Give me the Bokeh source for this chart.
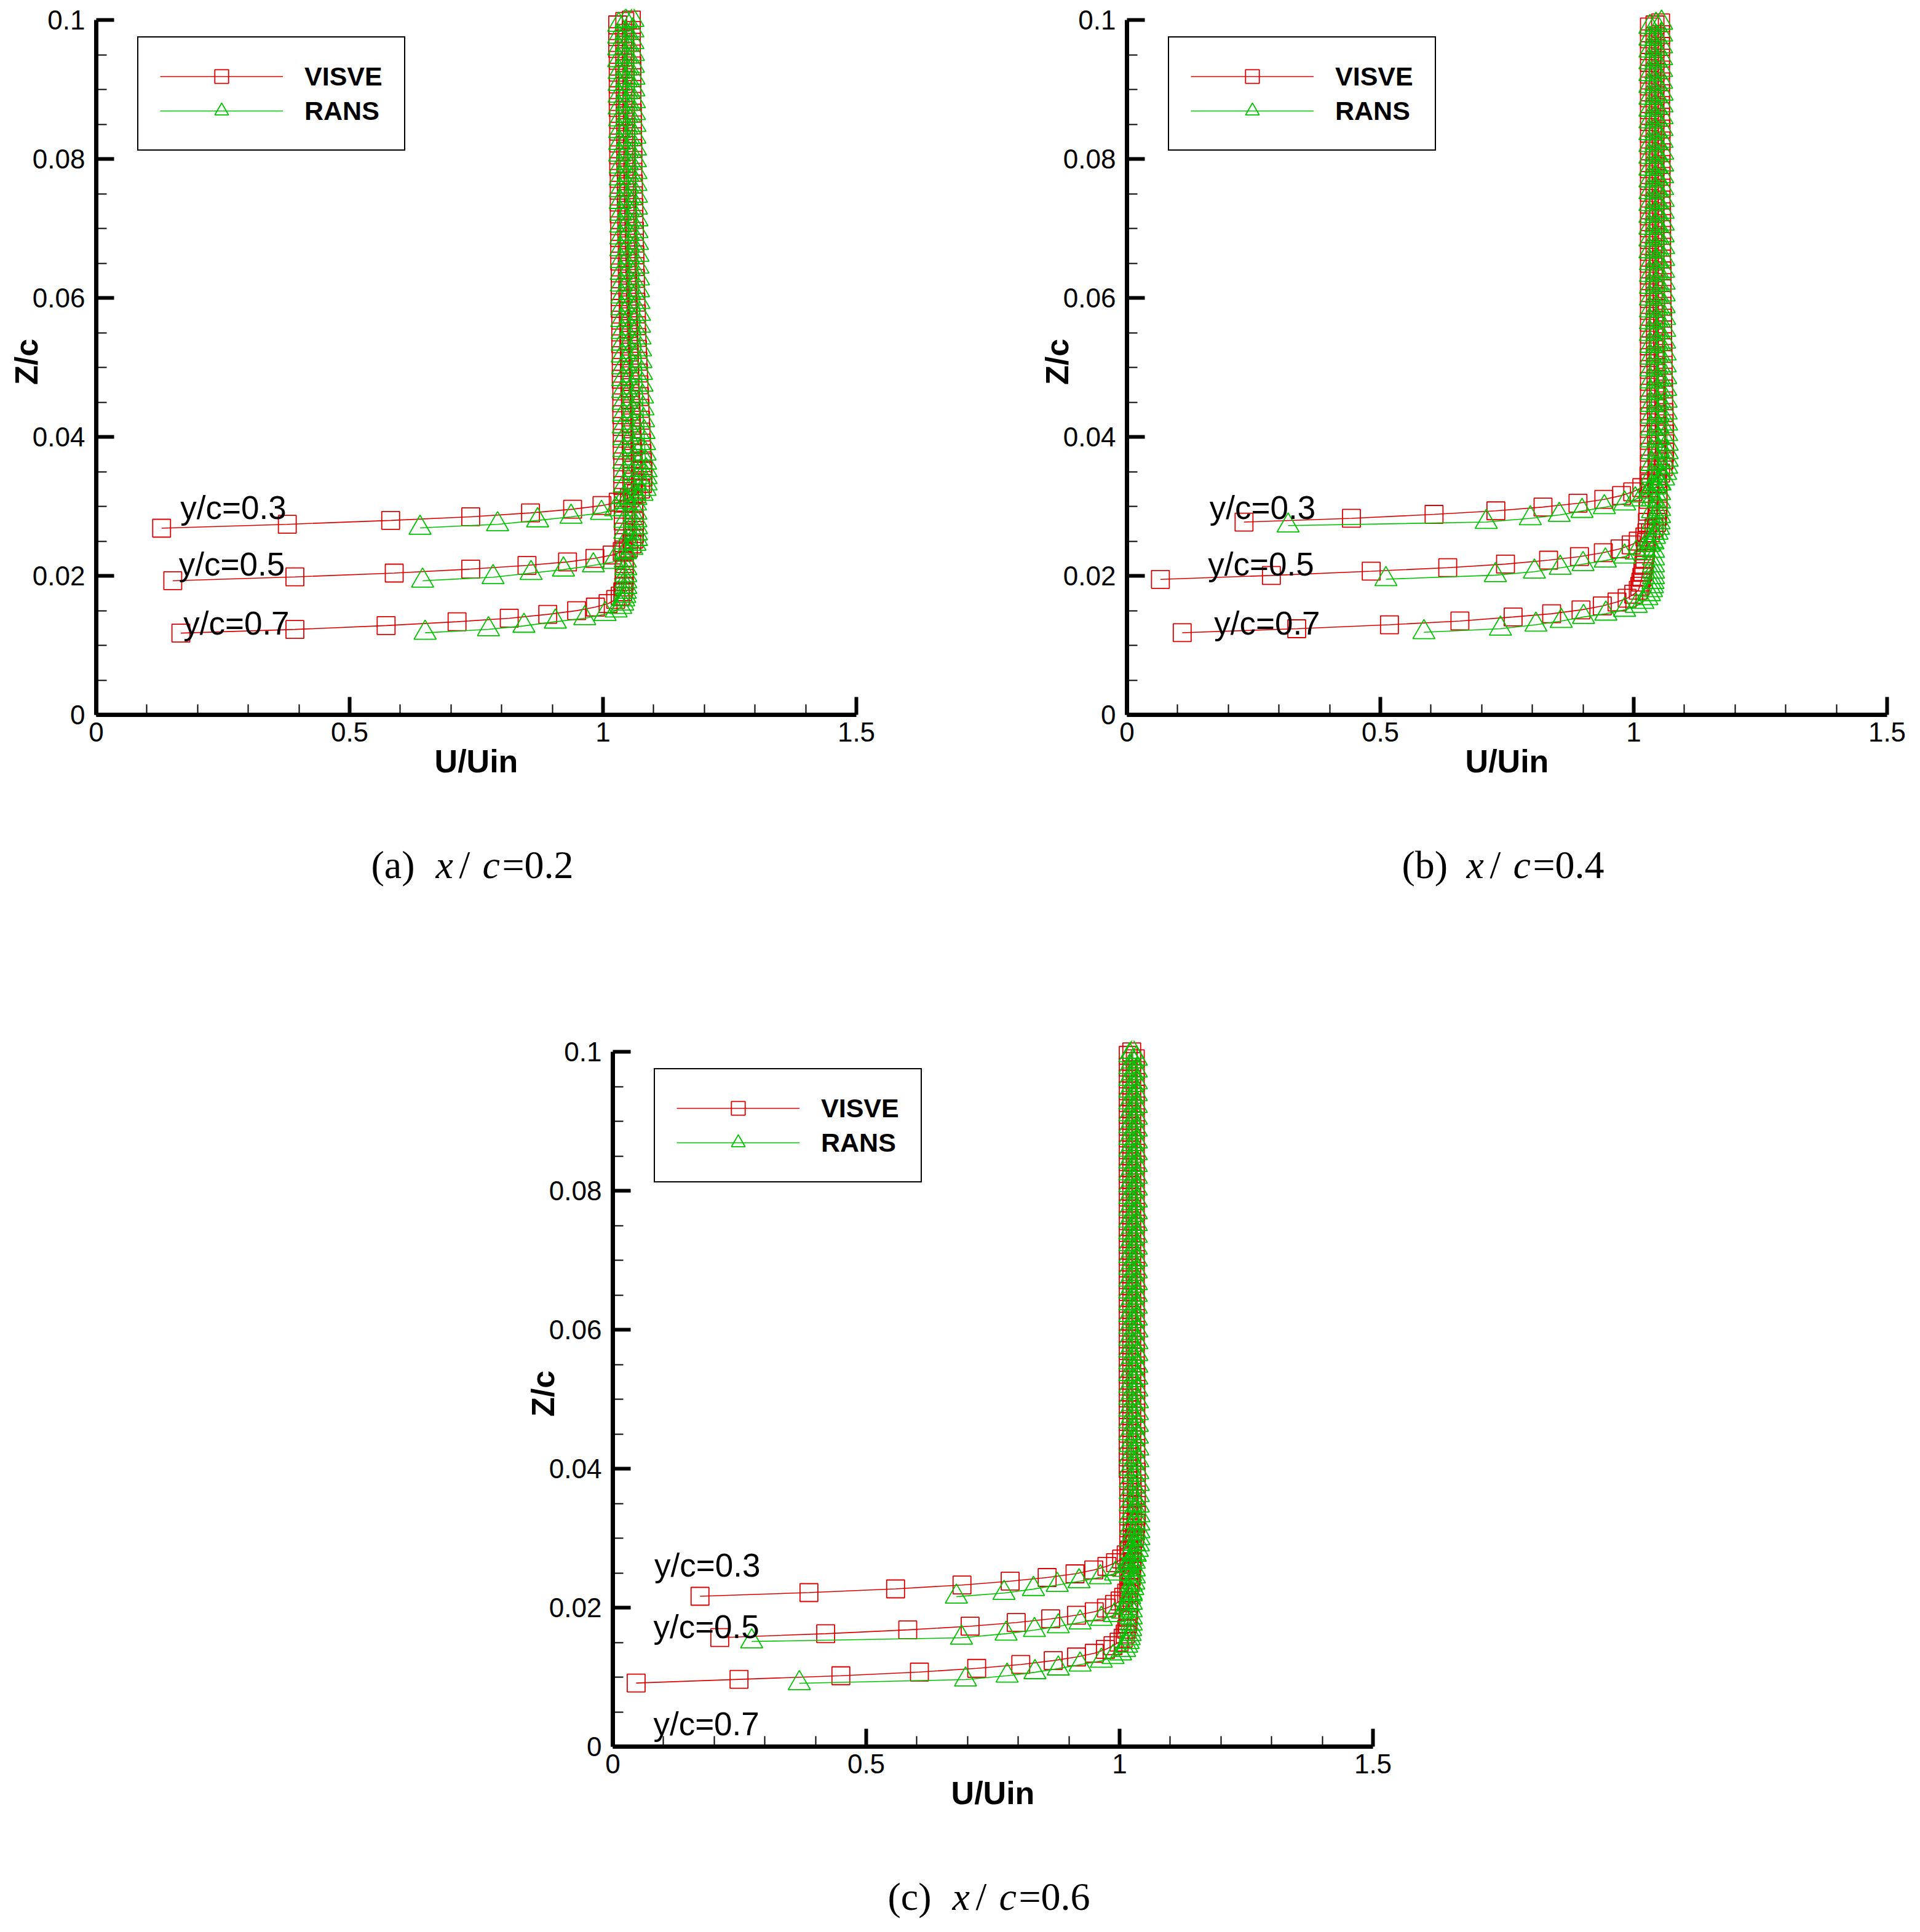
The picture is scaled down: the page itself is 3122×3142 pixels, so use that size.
from bokeh.plotting import figure
from bokeh.layouts import column, row
from bokeh.models import Range1d, FixedTicker, CustomJSTickFormatter, Legend, LegendItem
from bokeh.core.properties import value
from bokeh.embed import file_html
from bokeh.resources import INLINE

RED = "#dd0000"
GREEN = "#00c400"

X_TICKS = [0, 0.5, 1, 1.5]
Y_TICKS = [0, 0.02, 0.04, 0.06, 0.08, 0.1]
X_MINOR = [0.1, 0.2, 0.3, 0.4, 0.6, 0.7, 0.8, 0.9, 1.1, 1.2, 1.3, 1.4]
Y_MINOR = [0.005, 0.01, 0.015, 0.025, 0.03, 0.035, 0.045, 0.05, 0.055,
           0.065, 0.07, 0.075, 0.085, 0.09, 0.095]
PROFILE_LABELS = ["y/c=0.3", "y/c=0.5", "y/c=0.7"]
SERIES_NAMES = ["VISVE", "RANS"]

# ======================= panel (a) x/c=0.2 =======================
A3_VIS_Z_LOW = [0.02686, 0.02742, 0.02798, 0.02850, 0.02906, 0.02959, 0.03012]
A3_VIS_U_LOW = [0.129, 0.377, 0.581, 0.739, 0.857, 0.940, 0.998]
A3_RANS_Z_LOW = [0.02690, 0.02742, 0.02798, 0.02850, 0.02906, 0.02959]
A3_RANS_U_LOW = [0.639, 0.792, 0.871, 0.937, 0.997, 1.025]
A3_Z_UP = [0.0306, 0.0312, 0.0318, 0.0325, 0.0333, 0.0342, 0.0352, 0.0363,
           0.0376, 0.0391, 0.0407, 0.0424, 0.0441, 0.0458, 0.0475, 0.0492, 0.0509, 0.0526,
           0.0543, 0.0560, 0.0577, 0.0594, 0.0611, 0.0628, 0.0645, 0.0662, 0.0679, 0.0696,
           0.0713, 0.0730, 0.0747, 0.0764, 0.0781, 0.0798, 0.0815, 0.0832, 0.0849, 0.0866,
           0.0883, 0.0900, 0.0917, 0.0934, 0.0951, 0.0968, 0.0985, 0.1000]
A3_VIS_U_UP = [1.030, 1.052, 1.066, 1.074, 1.078, 1.079, 1.079, 1.078,
               1.077, 1.076, 1.075, 1.074, 1.073, 1.072, 1.071, 1.070, 1.069, 1.068,
               1.067, 1.066, 1.066, 1.065, 1.064, 1.064, 1.063, 1.063, 1.062, 1.062,
               1.061, 1.061, 1.060, 1.060, 1.059, 1.059, 1.059, 1.058, 1.058, 1.058,
               1.057, 1.057, 1.057, 1.057, 1.056, 1.056, 1.056, 1.056]
A3_RANS_U_UP = [1.045, 1.065, 1.077, 1.083, 1.085, 1.085, 1.085, 1.084,
                1.083, 1.082, 1.081, 1.080, 1.079, 1.078, 1.077, 1.076, 1.075, 1.074,
                1.073, 1.072, 1.072, 1.071, 1.070, 1.070, 1.069, 1.069, 1.068, 1.067,
                1.067, 1.066, 1.066, 1.065, 1.065, 1.064, 1.064, 1.063, 1.063, 1.062,
                1.062, 1.061, 1.061, 1.060, 1.060, 1.059, 1.059, 1.059]

A5_VIS_Z_LOW = [0.01930, 0.01985, 0.02040, 0.02097, 0.02150, 0.02200, 0.02252, 0.02300]
A5_VIS_U_LOW = [0.151, 0.392, 0.588, 0.739, 0.850, 0.930, 0.984, 1.018]
A5_RANS_Z_LOW = [0.01930, 0.01980, 0.02040, 0.02090, 0.02150, 0.02200]
A5_RANS_U_LOW = [0.644, 0.783, 0.858, 0.922, 0.981, 1.020]
A5_Z_UP = [0.0235, 0.0240, 0.0246, 0.0253, 0.0261, 0.0270, 0.0280, 0.0291,
           0.0304, 0.0319, 0.0335, 0.0352, 0.0369, 0.0386, 0.0403, 0.0420, 0.0437, 0.0454,
           0.0471, 0.0488, 0.0505, 0.0522, 0.0539, 0.0556, 0.0573, 0.0590, 0.0607, 0.0624,
           0.0641, 0.0658, 0.0675, 0.0692, 0.0709, 0.0726, 0.0743, 0.0760, 0.0777, 0.0794,
           0.0811, 0.0828, 0.0845, 0.0862, 0.0879, 0.0896, 0.0913, 0.0930, 0.0947, 0.0964,
           0.0981, 0.0998]
A5_VIS_U_UP = [1.038, 1.050, 1.057, 1.061, 1.062, 1.062, 1.062, 1.061,
               1.061, 1.060, 1.059, 1.058, 1.057, 1.057, 1.056, 1.055, 1.055, 1.054,
               1.053, 1.053, 1.052, 1.052, 1.051, 1.051, 1.050, 1.050, 1.049, 1.049,
               1.048, 1.048, 1.048, 1.047, 1.047, 1.047, 1.046, 1.046, 1.046, 1.045,
               1.045, 1.045, 1.045, 1.044, 1.044, 1.044, 1.044, 1.043, 1.043, 1.043,
               1.043, 1.043]
A5_RANS_U_UP = [1.045, 1.057, 1.063, 1.066, 1.066, 1.066, 1.065, 1.065,
                1.064, 1.063, 1.062, 1.062, 1.061, 1.060, 1.059, 1.059, 1.058, 1.057,
                1.057, 1.056, 1.056, 1.055, 1.055, 1.054, 1.054, 1.053, 1.053, 1.052,
                1.052, 1.051, 1.051, 1.050, 1.050, 1.050, 1.049, 1.049, 1.049, 1.048,
                1.048, 1.048, 1.047, 1.047, 1.047, 1.047, 1.046, 1.046, 1.046, 1.046,
                1.045, 1.045]

A7_VIS_Z_LOW = [0.01176, 0.01229, 0.01284, 0.01340, 0.01390, 0.01446, 0.01499, 0.01551, 0.01600, 0.01660]
A7_VIS_U_LOW = [0.167, 0.392, 0.572, 0.712, 0.815, 0.891, 0.948, 0.985, 1.010, 1.025]
A7_RANS_Z_LOW = [0.01180, 0.01230, 0.01280, 0.01340, 0.01390, 0.01450, 0.01500, 0.01551, 0.01600, 0.01660]
A7_RANS_U_LOW = [0.649, 0.774, 0.844, 0.906, 0.964, 1.004, 1.026, 1.035, 1.039, 1.041]
A7_Z_UP = [0.0171, 0.0177, 0.0184, 0.0192, 0.0201, 0.0211, 0.0222, 0.0234,
           0.0248, 0.0263, 0.0279, 0.0296, 0.0313, 0.0330, 0.0347, 0.0364, 0.0381, 0.0398,
           0.0415, 0.0432, 0.0449, 0.0466, 0.0483, 0.0500, 0.0517, 0.0534, 0.0551, 0.0568,
           0.0585, 0.0602, 0.0619, 0.0636, 0.0653, 0.0670, 0.0687, 0.0704, 0.0721, 0.0738,
           0.0755, 0.0772, 0.0789, 0.0806, 0.0823, 0.0840, 0.0857, 0.0874, 0.0891, 0.0908,
           0.0925, 0.0942, 0.0959, 0.0976, 0.0993]
A7_VIS_U_UP = [1.034, 1.039, 1.041, 1.042, 1.042, 1.042, 1.042, 1.041,
               1.041, 1.041, 1.040, 1.040, 1.040, 1.039, 1.039, 1.039, 1.038, 1.038,
               1.038, 1.037, 1.037, 1.037, 1.036, 1.036, 1.036, 1.035, 1.035, 1.035,
               1.034, 1.034, 1.034, 1.034, 1.033, 1.033, 1.033, 1.033, 1.032, 1.032,
               1.032, 1.032, 1.031, 1.031, 1.031, 1.031, 1.031, 1.030, 1.030, 1.030,
               1.030, 1.030, 1.029, 1.029, 1.029]
A7_RANS_U_UP = [1.043, 1.044, 1.045, 1.045, 1.045, 1.045, 1.044, 1.044,
                1.044, 1.043, 1.043, 1.043, 1.042, 1.042, 1.042, 1.041, 1.041, 1.041,
                1.040, 1.040, 1.040, 1.039, 1.039, 1.039, 1.038, 1.038, 1.038, 1.037,
                1.037, 1.037, 1.036, 1.036, 1.036, 1.035, 1.035, 1.035, 1.035, 1.034,
                1.034, 1.034, 1.034, 1.033, 1.033, 1.033, 1.033, 1.032, 1.032, 1.032,
                1.032, 1.031, 1.031, 1.031, 1.031]

# ======================= panel (b) x/c=0.4 =======================
B3_VIS_Z_LOW = [0.02774, 0.02828, 0.02885, 0.02936, 0.02990, 0.03045, 0.03100, 0.03156, 0.03210]
B3_VIS_U_LOW = [0.231, 0.443, 0.606, 0.728, 0.821, 0.890, 0.941, 0.976, 0.998]
B3_RANS_Z_LOW = [0.02723, 0.02774, 0.02828, 0.02876, 0.02933, 0.02987, 0.03040, 0.03100, 0.03156, 0.03210]
B3_RANS_U_LOW = [0.318, 0.709, 0.796, 0.853, 0.898, 0.942, 0.982, 1.003, 1.018, 1.030]
B3_Z_UP = [0.0327, 0.0333, 0.0340, 0.0348, 0.0357, 0.0367, 0.0378, 0.0390,
           0.0404, 0.0419, 0.0435, 0.0452, 0.0469, 0.0486, 0.0503, 0.0520, 0.0537, 0.0554,
           0.0571, 0.0588, 0.0605, 0.0622, 0.0639, 0.0656, 0.0673, 0.0690, 0.0707, 0.0724,
           0.0741, 0.0758, 0.0775, 0.0792, 0.0809, 0.0826, 0.0843, 0.0860, 0.0877, 0.0894,
           0.0911, 0.0928, 0.0945, 0.0962, 0.0979, 0.0996]
B3_VIS_U_UP = [1.016, 1.032, 1.045, 1.053, 1.058, 1.060, 1.061, 1.061,
               1.061, 1.060, 1.060, 1.059, 1.059, 1.058, 1.058, 1.058, 1.057, 1.057,
               1.057, 1.056, 1.056, 1.056, 1.056, 1.055, 1.055, 1.055, 1.055, 1.055,
               1.054, 1.054, 1.054, 1.054, 1.054, 1.054, 1.054, 1.053, 1.053, 1.053,
               1.053, 1.053, 1.053, 1.053, 1.053, 1.053]
B3_RANS_U_UP = [1.042, 1.052, 1.059, 1.063, 1.065, 1.066, 1.066, 1.066,
                1.065, 1.065, 1.064, 1.064, 1.063, 1.063, 1.062, 1.062, 1.061, 1.061,
                1.061, 1.060, 1.060, 1.060, 1.059, 1.059, 1.059, 1.058, 1.058, 1.058,
                1.058, 1.057, 1.057, 1.057, 1.057, 1.056, 1.056, 1.056, 1.056, 1.056,
                1.055, 1.055, 1.055, 1.055, 1.055, 1.055]

B5_VIS_Z_LOW = [0.01949, 0.02006, 0.02067, 0.02118, 0.02169, 0.02226, 0.02277, 0.02334, 0.02389, 0.02446, 0.02500]
B5_VIS_U_LOW = [0.066, 0.285, 0.482, 0.633, 0.747, 0.832, 0.893, 0.940, 0.973, 0.995, 1.009]
B5_RANS_Z_LOW = [0.01952, 0.02010, 0.02060, 0.02115, 0.02169, 0.02220, 0.02277, 0.02334, 0.02389, 0.02446, 0.02500]
B5_RANS_U_LOW = [0.511, 0.727, 0.804, 0.855, 0.900, 0.944, 0.982, 1.005, 1.020, 1.030, 1.036]
B5_Z_UP = [0.0256, 0.0262, 0.0269, 0.0277, 0.0286, 0.0296, 0.0307, 0.0319,
           0.0333, 0.0348, 0.0364, 0.0381, 0.0398, 0.0415, 0.0432, 0.0449, 0.0466, 0.0483,
           0.0500, 0.0517, 0.0534, 0.0551, 0.0568, 0.0585, 0.0602, 0.0619, 0.0636, 0.0653,
           0.0670, 0.0687, 0.0704, 0.0721, 0.0738, 0.0755, 0.0772, 0.0789, 0.0806, 0.0823,
           0.0840, 0.0857, 0.0874, 0.0891, 0.0908, 0.0925, 0.0942, 0.0959, 0.0976, 0.0993]
B5_VIS_U_UP = [1.022, 1.033, 1.040, 1.045, 1.047, 1.048, 1.048, 1.048,
               1.047, 1.047, 1.046, 1.046, 1.045, 1.045, 1.045, 1.044, 1.044, 1.044,
               1.044, 1.043, 1.043, 1.043, 1.043, 1.043, 1.043, 1.042, 1.042, 1.042,
               1.042, 1.042, 1.042, 1.042, 1.042, 1.042, 1.042, 1.042, 1.042, 1.042,
               1.042, 1.042, 1.042, 1.042, 1.042, 1.042, 1.042, 1.042, 1.042, 1.042]
B5_RANS_U_UP = [1.041, 1.046, 1.049, 1.050, 1.051, 1.051, 1.051, 1.051,
                1.050, 1.050, 1.049, 1.049, 1.048, 1.048, 1.048, 1.047, 1.047, 1.047,
                1.046, 1.046, 1.046, 1.046, 1.045, 1.045, 1.045, 1.045, 1.045, 1.045,
                1.044, 1.044, 1.044, 1.044, 1.044, 1.044, 1.044, 1.044, 1.044, 1.044,
                1.044, 1.044, 1.044, 1.044, 1.044, 1.044, 1.044, 1.044, 1.044, 1.044]

B7_VIS_Z_LOW = [0.01182, 0.01239, 0.01296, 0.01350, 0.01408, 0.01455, 0.01510, 0.01567, 0.01624, 0.01678, 0.01736, 0.01793]
B7_VIS_U_LOW = [0.109, 0.335, 0.518, 0.657, 0.762, 0.838, 0.896, 0.938, 0.967, 0.987, 1.000, 1.009]
B7_RANS_Z_LOW = [0.01188, 0.01239, 0.01296, 0.01350, 0.01408, 0.01455, 0.01510, 0.01567, 0.01624, 0.01678, 0.01736, 0.01793]
B7_RANS_U_LOW = [0.586, 0.737, 0.807, 0.857, 0.901, 0.945, 0.982, 1.005, 1.018, 1.026, 1.031, 1.035]
B7_Z_UP = [0.0185, 0.0191, 0.0198, 0.0206, 0.0215, 0.0225, 0.0236, 0.0248,
           0.0262, 0.0277, 0.0293, 0.0310, 0.0327, 0.0344, 0.0361, 0.0378, 0.0395, 0.0412,
           0.0429, 0.0446, 0.0463, 0.0480, 0.0497, 0.0514, 0.0531, 0.0548, 0.0565, 0.0582,
           0.0599, 0.0616, 0.0633, 0.0650, 0.0667, 0.0684, 0.0701, 0.0718, 0.0735, 0.0752,
           0.0769, 0.0786, 0.0803, 0.0820, 0.0837, 0.0854, 0.0871, 0.0888, 0.0905, 0.0922,
           0.0939, 0.0956, 0.0973, 0.0990]
B7_VIS_U_UP = [1.012, 1.014, 1.016, 1.018, 1.020, 1.022, 1.023, 1.025,
               1.026, 1.027, 1.028, 1.029, 1.030, 1.030, 1.031, 1.031, 1.031, 1.031,
               1.031, 1.031, 1.031, 1.031, 1.031, 1.031, 1.031, 1.031, 1.031, 1.031,
               1.031, 1.031, 1.031, 1.031, 1.031, 1.031, 1.031, 1.031, 1.031, 1.031,
               1.031, 1.031, 1.031, 1.031, 1.031, 1.031, 1.031, 1.031, 1.031, 1.031,
               1.031, 1.031, 1.031, 1.031]
B7_RANS_U_UP = [1.037, 1.038, 1.039, 1.039, 1.039, 1.039, 1.039, 1.038,
                1.038, 1.038, 1.037, 1.037, 1.037, 1.036, 1.036, 1.036, 1.035, 1.035,
                1.035, 1.035, 1.034, 1.034, 1.034, 1.034, 1.034, 1.033, 1.033, 1.033,
                1.033, 1.033, 1.033, 1.033, 1.032, 1.032, 1.032, 1.032, 1.032, 1.032,
                1.032, 1.032, 1.032, 1.032, 1.032, 1.032, 1.032, 1.032, 1.032, 1.032,
                1.032, 1.032, 1.032, 1.032]

# ======================= panel (c) x/c=0.6 =======================
C3_VIS_Z_LOW = [0.02164, 0.02217, 0.02270, 0.02326, 0.02381, 0.02434, 0.02487, 0.02543, 0.02595, 0.02648]
C3_VIS_U_LOW = [0.172, 0.387, 0.558, 0.689, 0.784, 0.857, 0.912, 0.949, 0.975, 0.992]
C3_RANS_Z_LOW = [0.02158, 0.02211, 0.02267, 0.02326, 0.02378, 0.02437, 0.02490, 0.02543, 0.02595, 0.02648]
C3_RANS_U_LOW = [0.678, 0.772, 0.830, 0.877, 0.920, 0.962, 0.992, 1.008, 1.016, 1.020]
C3_Z_UP = [0.0270, 0.0276, 0.0283, 0.0291, 0.0300, 0.0310, 0.0321, 0.0333,
           0.0347, 0.0362, 0.0378, 0.0395, 0.0412, 0.0429, 0.0446, 0.0463, 0.0480, 0.0497,
           0.0514, 0.0531, 0.0548, 0.0565, 0.0582, 0.0599, 0.0616, 0.0633, 0.0650, 0.0667,
           0.0684, 0.0701, 0.0718, 0.0735, 0.0752, 0.0769, 0.0786, 0.0803, 0.0820, 0.0837,
           0.0854, 0.0871, 0.0888, 0.0905, 0.0922, 0.0939, 0.0956, 0.0973, 0.0990]
C3_VIS_U_UP = [1.004, 1.013, 1.020, 1.025, 1.029, 1.031, 1.032, 1.033,
               1.033, 1.033, 1.033, 1.033, 1.032, 1.032, 1.032, 1.032, 1.032, 1.032,
               1.032, 1.032, 1.031, 1.031, 1.031, 1.031, 1.031, 1.031, 1.031, 1.031,
               1.031, 1.031, 1.031, 1.031, 1.031, 1.031, 1.031, 1.031, 1.031, 1.031,
               1.031, 1.031, 1.031, 1.031, 1.031, 1.031, 1.031, 1.031, 1.031]
C3_RANS_U_UP = [1.026, 1.031, 1.035, 1.037, 1.038, 1.038, 1.038, 1.038,
                1.037, 1.037, 1.037, 1.036, 1.036, 1.036, 1.035, 1.035, 1.035, 1.035,
                1.034, 1.034, 1.034, 1.034, 1.034, 1.034, 1.033, 1.033, 1.033, 1.033,
                1.033, 1.033, 1.033, 1.033, 1.033, 1.033, 1.033, 1.033, 1.033, 1.033,
                1.033, 1.033, 1.033, 1.033, 1.033, 1.033, 1.033, 1.033, 1.033]

C5_VIS_Z_LOW = [0.01569, 0.01625, 0.01680, 0.01733, 0.01786, 0.01839, 0.01891, 0.01941, 0.01994, 0.02047, 0.02097]
C5_VIS_U_LOW = [0.211, 0.420, 0.582, 0.705, 0.796, 0.864, 0.915, 0.950, 0.974, 0.990, 1.001]
C5_RANS_Z_LOW = [0.01513, 0.01566, 0.01625, 0.01677, 0.01730, 0.01786, 0.01836, 0.01891, 0.01941, 0.01994, 0.02047]
C5_RANS_U_LOW = [0.274, 0.688, 0.776, 0.832, 0.879, 0.922, 0.964, 0.990, 1.006, 1.013, 1.017]
C5_Z_UP = [0.0215, 0.0221, 0.0228, 0.0236, 0.0245, 0.0255, 0.0266, 0.0278,
           0.0292, 0.0307, 0.0323, 0.0340, 0.0357, 0.0374, 0.0391, 0.0408, 0.0425, 0.0442,
           0.0459, 0.0476, 0.0493, 0.0510, 0.0527, 0.0544, 0.0561, 0.0578, 0.0595, 0.0612,
           0.0629, 0.0646, 0.0663, 0.0680, 0.0697, 0.0714, 0.0731, 0.0748, 0.0765, 0.0782,
           0.0799, 0.0816, 0.0833, 0.0850, 0.0867, 0.0884, 0.0901, 0.0918, 0.0935, 0.0952,
           0.0969, 0.0986, 0.1000]
C5_VIS_U_UP = [1.008, 1.014, 1.018, 1.021, 1.023, 1.024, 1.025, 1.025,
               1.025, 1.025, 1.025, 1.025, 1.025, 1.025, 1.024, 1.024, 1.024, 1.024,
               1.024, 1.024, 1.024, 1.024, 1.024, 1.024, 1.024, 1.024, 1.024, 1.024,
               1.024, 1.024, 1.024, 1.024, 1.024, 1.024, 1.024, 1.024, 1.024, 1.024,
               1.024, 1.024, 1.024, 1.024, 1.024, 1.024, 1.024, 1.024, 1.024, 1.024,
               1.024, 1.024, 1.024]
C5_RANS_U_UP = [1.020, 1.023, 1.026, 1.028, 1.029, 1.029, 1.029, 1.029,
                1.029, 1.028, 1.028, 1.028, 1.028, 1.027, 1.027, 1.027, 1.027, 1.027,
                1.027, 1.026, 1.026, 1.026, 1.026, 1.026, 1.026, 1.026, 1.026, 1.026,
                1.026, 1.026, 1.026, 1.026, 1.026, 1.026, 1.026, 1.026, 1.026, 1.026,
                1.026, 1.026, 1.026, 1.026, 1.026, 1.026, 1.026, 1.026, 1.026, 1.026,
                1.026, 1.026, 1.026]

C7_VIS_Z_LOW = [0.00915, 0.00968, 0.01020, 0.01073, 0.01126, 0.01182, 0.01238, 0.01290, 0.01343, 0.01399, 0.01452, 0.01504]
C7_VIS_U_LOW = [0.046, 0.249, 0.450, 0.605, 0.718, 0.805, 0.869, 0.915, 0.950, 0.972, 0.987, 0.999]
C7_RANS_Z_LOW = [0.00912, 0.00965, 0.01020, 0.01070, 0.01123, 0.01179, 0.01235, 0.01287, 0.01340, 0.01390, 0.01452, 0.01504]
C7_RANS_U_LOW = [0.368, 0.696, 0.778, 0.833, 0.879, 0.922, 0.964, 0.987, 1.002, 1.010, 1.014, 1.017]
C7_Z_UP = [0.0156, 0.0162, 0.0169, 0.0177, 0.0186, 0.0196, 0.0207, 0.0219,
           0.0233, 0.0248, 0.0264, 0.0281, 0.0298, 0.0315, 0.0332, 0.0349, 0.0366, 0.0383,
           0.0400, 0.0417, 0.0434, 0.0451, 0.0468, 0.0485, 0.0502, 0.0519, 0.0536, 0.0553,
           0.0570, 0.0587, 0.0604, 0.0621, 0.0638, 0.0655, 0.0672, 0.0689, 0.0706, 0.0723,
           0.0740, 0.0757, 0.0774, 0.0791, 0.0808, 0.0825, 0.0842, 0.0859, 0.0876, 0.0893,
           0.0910, 0.0927, 0.0944, 0.0961, 0.0978, 0.0995]
C7_VIS_U_UP = [1.007, 1.011, 1.014, 1.016, 1.017, 1.018, 1.018, 1.018,
               1.018, 1.018, 1.018, 1.018, 1.018, 1.018, 1.018, 1.018, 1.018, 1.018,
               1.017, 1.017, 1.017, 1.017, 1.017, 1.017, 1.017, 1.017, 1.017, 1.017,
               1.017, 1.017, 1.017, 1.017, 1.017, 1.017, 1.017, 1.017, 1.017, 1.017,
               1.017, 1.017, 1.017, 1.017, 1.017, 1.017, 1.017, 1.017, 1.017, 1.017,
               1.017, 1.017, 1.017, 1.017, 1.017, 1.017]
C7_RANS_U_UP = [1.019, 1.021, 1.022, 1.023, 1.023, 1.023, 1.023, 1.023,
                1.023, 1.022, 1.022, 1.022, 1.022, 1.022, 1.021, 1.021, 1.021, 1.021,
                1.021, 1.021, 1.021, 1.020, 1.020, 1.020, 1.020, 1.020, 1.020, 1.020,
                1.020, 1.020, 1.020, 1.020, 1.020, 1.020, 1.020, 1.020, 1.020, 1.020,
                1.020, 1.020, 1.020, 1.020, 1.020, 1.020, 1.020, 1.020, 1.020, 1.020,
                1.020, 1.020, 1.020, 1.020, 1.020, 1.020]

# profile-label anchor positions (data units) per panel
LABEL_U_A = [0.166, 0.163, 0.172]
LABEL_Z_A = [0.0298, 0.0217, 0.0132]
LABEL_U_B = [0.163, 0.160, 0.172]
LABEL_Z_B = [0.0298, 0.0217, 0.0132]
LABEL_U_C = [0.082, 0.080, 0.080]
LABEL_Z_C = [0.0261, 0.0173, 0.0033]

CAPTION_A = ["(a)", "x", "/", "c", "=0.2"]
CAPTION_B = ["(b)", "x", "/", "c", "=0.4"]
CAPTION_C = ["(c)", "x", "/", "c", "=0.6"]
CAPTION_ITALIC = [False, True, False, True, False]
CAPTION_OFFSETS = [0, 105, 143, 181, 213]
CAPTION_MID = 70


def join(z_low, u_low, z_up, u_up):
    z = list(z_low) + list(z_up)
    u = list(u_low) + list(u_up)
    n = min(len(z), len(u))
    return u[:n], z[:n]


PANEL_A = [
    (join(A3_VIS_Z_LOW, A3_VIS_U_LOW, A3_Z_UP, A3_VIS_U_UP), join(A3_RANS_Z_LOW, A3_RANS_U_LOW, A3_Z_UP, A3_RANS_U_UP)),
    (join(A5_VIS_Z_LOW, A5_VIS_U_LOW, A5_Z_UP, A5_VIS_U_UP), join(A5_RANS_Z_LOW, A5_RANS_U_LOW, A5_Z_UP, A5_RANS_U_UP)),
    (join(A7_VIS_Z_LOW, A7_VIS_U_LOW, A7_Z_UP, A7_VIS_U_UP), join(A7_RANS_Z_LOW, A7_RANS_U_LOW, A7_Z_UP, A7_RANS_U_UP)),
]
PANEL_B = [
    (join(B3_VIS_Z_LOW, B3_VIS_U_LOW, B3_Z_UP, B3_VIS_U_UP), join(B3_RANS_Z_LOW, B3_RANS_U_LOW, B3_Z_UP, B3_RANS_U_UP)),
    (join(B5_VIS_Z_LOW, B5_VIS_U_LOW, B5_Z_UP, B5_VIS_U_UP), join(B5_RANS_Z_LOW, B5_RANS_U_LOW, B5_Z_UP, B5_RANS_U_UP)),
    (join(B7_VIS_Z_LOW, B7_VIS_U_LOW, B7_Z_UP, B7_VIS_U_UP), join(B7_RANS_Z_LOW, B7_RANS_U_LOW, B7_Z_UP, B7_RANS_U_UP)),
]
PANEL_C = [
    (join(C3_VIS_Z_LOW, C3_VIS_U_LOW, C3_Z_UP, C3_VIS_U_UP), join(C3_RANS_Z_LOW, C3_RANS_U_LOW, C3_Z_UP, C3_RANS_U_UP)),
    (join(C5_VIS_Z_LOW, C5_VIS_U_LOW, C5_Z_UP, C5_VIS_U_UP), join(C5_RANS_Z_LOW, C5_RANS_U_LOW, C5_Z_UP, C5_RANS_U_UP)),
    (join(C7_VIS_Z_LOW, C7_VIS_U_LOW, C7_Z_UP, C7_VIS_U_UP), join(C7_RANS_Z_LOW, C7_RANS_U_LOW, C7_Z_UP, C7_RANS_U_UP)),
]

SANS = "Liberation Sans"
SERIF = "Liberation Serif"


def style_axis(ax, label_standoff, title_standoff):
    ax.axis_line_width = 7
    ax.axis_line_color = "black"
    ax.major_tick_line_width = 6
    ax.major_tick_line_color = "black"
    ax.major_tick_in = 29
    ax.major_tick_out = 0
    ax.minor_tick_line_width = 2
    ax.minor_tick_line_color = "black"
    ax.minor_tick_in = 17
    ax.minor_tick_out = 0
    ax.major_label_text_font = SANS
    ax.major_label_text_font_size = "44px"
    ax.major_label_text_color = "black"
    ax.major_label_standoff = label_standoff
    ax.axis_label_text_font = SANS
    ax.axis_label_text_font_size = "52px"
    ax.axis_label_text_font_style = "bold"
    ax.axis_label_text_color = "black"
    ax.axis_label_standoff = title_standoff
    ax.formatter = CustomJSTickFormatter(code="return tick.toString();")


def make_panel(profiles, lab_u, lab_z, width, height, bl, br, bt, bb):
    p = figure(width=width, height=height, x_range=Range1d(0, 1.5), y_range=Range1d(0, 0.1016),
               output_backend="svg", toolbar_location=None,
               min_border_left=bl, min_border_right=br, min_border_top=bt, min_border_bottom=bb,
               x_axis_label="U/Uin", y_axis_label="Z/c")
    p.grid.visible = False
    p.outline_line_color = None
    p.background_fill_color = "white"
    p.border_fill_color = "white"

    xa = p.xaxis[0]
    ya = p.yaxis[0]
    style_axis(xa, 12, 0)
    style_axis(ya, 18, -22)
    xa.ticker = FixedTicker(ticks=X_TICKS, minor_ticks=X_MINOR)
    ya.ticker = FixedTicker(ticks=Y_TICKS, minor_ticks=Y_MINOR)
    ya.bounds = (0, 0.1)

    vis_r = None
    rans_r = None
    for (vu, vz), _ in profiles:
        l = p.line(vu, vz, line_color=RED, line_width=1.6)
        s = p.scatter(vu, vz, marker="square", size=29, line_color=RED, line_width=1.8, fill_color=None)
        if vis_r is None:
            vis_r = [l, s]
    for _, (ru, rz) in profiles:
        l = p.line(ru, rz, line_color=GREEN, line_width=1.6)
        s = p.scatter(ru, rz, marker="triangle", size=36, line_color=GREEN, line_width=1.8, fill_color=None)
        if rans_r is None:
            rans_r = [l, s]

    p.text(x=lab_u, y=lab_z, text=PROFILE_LABELS, text_font=value(SANS), text_font_size="53px",
           text_color="black", text_align="left", text_baseline="alphabetic")

    legend = Legend(items=[LegendItem(label=SERIES_NAMES[0], renderers=vis_r),
                           LegendItem(label=SERIES_NAMES[1], renderers=rans_r)],
                    location=(67, 917), glyph_width=200, glyph_height=56, label_height=56,
                    spacing=0, padding=35, margin=0, label_standoff=35,
                    label_text_font=SANS, label_text_font_style="bold", label_text_font_size="43px",
                    label_text_color="black",
                    border_line_color="black", border_line_width=2, border_line_alpha=1.0,
                    background_fill_color="white", background_fill_alpha=1.0)
    p.add_layout(legend)
    return p


def make_caption(width, height, groups):
    c = figure(width=width, height=height, x_range=Range1d(0, width), y_range=Range1d(height, 0),
               output_backend="svg", toolbar_location=None, min_border=0,
               x_axis_location=None, y_axis_location=None)
    c.grid.visible = False
    c.outline_line_color = None
    for start, pieces in groups:
        for txt, off, ital in zip(pieces, CAPTION_OFFSETS, CAPTION_ITALIC):
            c.text(x=[start + off], y=[CAPTION_MID], text=[txt], text_font=value(SERIF),
                   text_font_style="italic" if ital else "normal", text_font_size="64px",
                   text_color="black", text_align="left", text_baseline="middle")
    return c


fig_a = make_panel(PANEL_A, LABEL_U_A, LABEL_Z_A, 1684, 1336, 156, 292, 14, 174)
fig_b = make_panel(PANEL_B, LABEL_U_B, LABEL_Z_B, 1420, 1336, 148, 36, 14, 174)
cap1 = make_caption(3104, 232, [(603, CAPTION_A), (2279, CAPTION_B)])
fig_c = make_panel(PANEL_C, LABEL_U_C, LABEL_Z_C, 2332, 1446, 996, 100, 124, 174)
cap2 = make_caption(2332, 126, [(1443, CAPTION_C)])

layout = column(row(fig_a, fig_b), row(cap1), row(fig_c), row(cap2))

open("out.html", "w").write(file_html(layout, INLINE))
